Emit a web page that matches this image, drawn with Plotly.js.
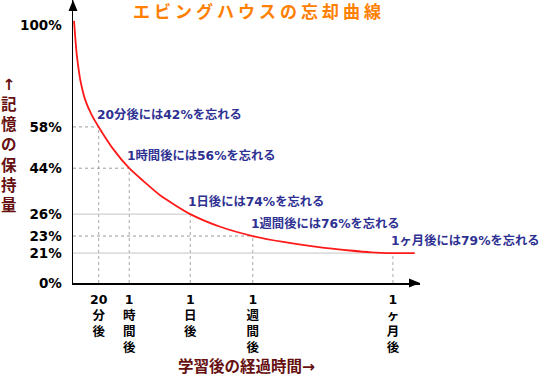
<!DOCTYPE html>
<html><head><meta charset="utf-8">
<script src="https://cdn.plot.ly/plotly-3.0.1.min.js"></script>
<style>
html,body{margin:0;padding:0;background:#fff;}
#chart{width:539px;height:375px;}
.gtitle{letter-spacing:4px;}
</style></head><body><div id="chart"></div>
<script>
// Checkpoints of the (schematic) forgetting curve
const checkpointNames = ['20分後', '1時間後', '1日後', '1週間後', '1ヶ月後'];
const checkpointTicks = ['20<br>分<br>後', '1<br>時<br>間<br>後', '1<br>日<br>後', '1<br>週<br>間<br>後', '1<br>ヶ<br>月<br>後'];
const retentionPct = [58, 44, 26, 23, 21];
const forgetPct = [42, 56, 74, 76, 79];
// where each checkpoint sits on the drawn (non-uniform) axes
const checkpointTime = [7.4, 16.2, 33.8, 51.8, 92.2];
const checkpointLevel = [60.5, 44.5, 26.7, 18.2, 11.6];
const curveTime  = [0.3, 0.66, 1.09, 1.53, 2.1, 3.54, 5.27, 7.4, 11.6, 16.2, 20.2, 25.1, 33.8, 42.4, 51.8, 60.6, 70.3, 79.8, 86.0, 92.2, 98.5];
const curveLevel = [101.6, 95.0, 88.4, 83.7, 78.7, 70.9, 65.5, 60.5, 51.9, 44.5, 39.6, 34.0, 26.7, 21.8, 18.2, 15.9, 14.0, 12.6, 11.9, 11.6, 11.6];

const FONT = 'DejaVu Sans, Noto Sans CJK JP, sans-serif';
const hDash = ['dot', 'dot', 'solid', 'dot', 'solid'];

const shapes = [];
checkpointTime.forEach((t, i) => {
  shapes.push({type: 'line', xref: 'x', yref: 'y', x0: 0, x1: t, y0: checkpointLevel[i], y1: checkpointLevel[i], layer: 'below',
    line: {color: hDash[i] === 'dot' ? '#9a9a9a' : '#c4c4c4', width: 1, dash: hDash[i]}});
  shapes.push({type: 'line', xref: 'x', yref: 'y', x0: t, x1: t, y0: 0, y1: checkpointLevel[i], layer: 'below',
    line: {color: '#a8a8a8', width: 1, dash: 'dot'}});
});
// axis arrowheads
shapes.push({type: 'path', xref: 'paper', yref: 'paper', xsizemode: 'pixel', ysizemode: 'pixel', xanchor: 0, yanchor: 1,
  path: 'M0,0 L-4.5,-11 L4.5,-11 Z', fillcolor: '#000', line: {width: 0}});
shapes.push({type: 'path', xref: 'paper', yref: 'paper', xsizemode: 'pixel', ysizemode: 'pixel', xanchor: 1, yanchor: 0,
  path: 'M0,0 L-11,4.5 L-11,-4.5 Z', fillcolor: '#000', line: {width: 0}});

const annotations = checkpointTime.map((t, i) => ({
  x: t, y: checkpointLevel[i], xref: 'x', yref: 'y', xanchor: 'left', yanchor: 'bottom', xshift: -4, yshift: 3,
  showarrow: false, text: checkpointNames[i] + 'には' + forgetPct[i] + '%を忘れる',
  font: {family: FONT, size: 12.3, color: '#2e3192', weight: 700}
}));
annotations.push({xref: 'paper', yref: 'paper', x: 0, y: 0.4876, xshift: -64, xanchor: 'center', yanchor: 'middle', showarrow: false,
  text: '↑<br>記<br>憶<br>の<br>保<br>持<br>量', font: {family: FONT, size: 15.5, color: '#661010', weight: 700}});
annotations.push({xref: 'paper', yref: 'paper', x: 0.4986, y: 0, yshift: -83, xanchor: 'center', yanchor: 'middle', showarrow: false,
  text: '学習後の経過時間→', font: {family: FONT, size: 15.5, color: '#661010', weight: 700}});

const trace = {type: 'scatter', mode: 'lines', x: curveTime, y: curveLevel, line: {color: '#ff1a1a', width: 1.8, shape: 'spline', smoothing: 0.6},
  hoverinfo: 'skip', cliponaxis: false, showlegend: false};

const layout = {
  width: 539, height: 375,
  margin: {l: 73, r: 119, t: 0, b: 92},
  paper_bgcolor: '#fff', plot_bgcolor: '#fff',
  title: {text: 'エビングハウスの忘却曲線', x: 0.4805, xanchor: 'center', xref: 'container', y: 0.968, yref: 'container', yanchor: 'middle',
    font: {family: FONT, size: 17, color: '#ff8000', weight: 700}},
  xaxis: {range: [0, 100], showgrid: false, zeroline: false, showline: true, linecolor: '#000', linewidth: 1.5,
    tickvals: checkpointTime, ticktext: checkpointTicks, ticks: '', ticklabelstandoff: 4,
    tickfont: {family: FONT, size: 12.5, color: '#000', weight: 700}, fixedrange: true},
  yaxis: {range: [0, 109.7], showgrid: false, zeroline: false, showline: true, linecolor: '#000', linewidth: 1.5,
    tickvals: [0].concat(checkpointLevel, [100]), ticktext: ['0%'].concat(retentionPct.map(v => v + '%'), ['100%']),
    ticks: '', ticklabelstandoff: 7, tickfont: {family: FONT, size: 13.5, color: '#000', weight: 700}, fixedrange: true},
  shapes: shapes,
  annotations: annotations
};
Plotly.newPlot('chart', [trace], layout, {displayModeBar: false, staticPlot: true});
</script></body></html>
